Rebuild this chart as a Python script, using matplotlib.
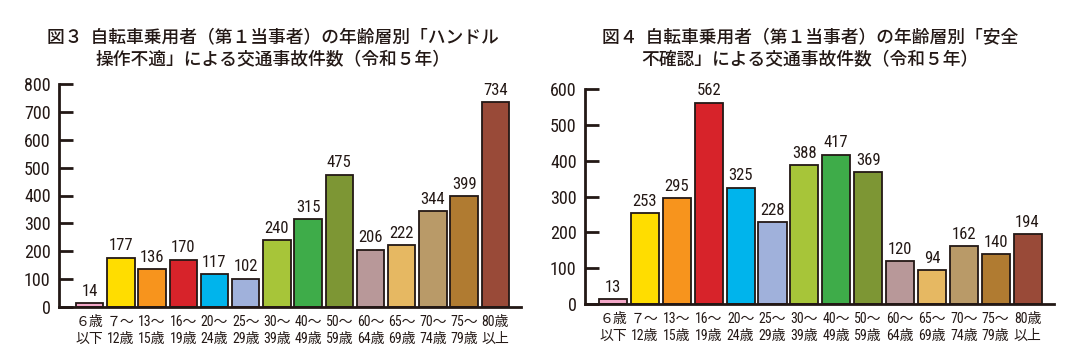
import matplotlib
matplotlib.use("Agg")
import matplotlib.pyplot as plt
from matplotlib import font_manager

categories = ["６歳\n以下", "７～\n12歳", "13～\n15歳", "16～\n19歳", "20～\n24歳",
              "25～\n29歳", "30～\n39歳", "40～\n49歳", "50～\n59歳", "60～\n64歳",
              "65～\n69歳", "70～\n74歳", "75～\n79歳", "80歳\n以上"]
handle_values = [14, 177, 136, 170, 117, 102, 240, 315, 475, 206, 222, 344, 399, 734]
safety_values = [13, 253, 295, 562, 325, 228, 388, 417, 369, 120, 94, 162, 140, 194]
bar_colors = ["#F4A7C8", "#FFDD00", "#F7941D", "#D7232A", "#00B4EC", "#A0B1DB",
              "#A7C539", "#3EAC49", "#7D9634", "#B89899", "#E6B862", "#B99A68",
              "#B07B31", "#994A38"]
title_left = "図３  自転車乗用者（第１当事者）の年齢層別「ハンドル\n操作不適」による交通事故件数（令和５年）"
title_right = "図４  自転車乗用者（第１当事者）の年齢層別「安全\n不確認」による交通事故件数（令和５年）"

available = {f.name for f in font_manager.fontManager.ttflist}
narrow = "DejaVu Sans"
for cand in ["Roboto Condensed", "Liberation Sans Narrow", "Archivo Narrow", "PT Sans Narrow",
             "Arimo", "Liberation Sans"]:
    if cand in available:
        narrow = cand
        break
num_fam = [narrow, "DejaVu Sans"]
lab_fam = [narrow, "Noto Sans CJK JP"]
txt = "#231815"

fig = plt.figure(figsize=(10.85, 3.58), dpi=100)

def draw(ax_rect, values, ymax, yticks, xlim):
    ax = fig.add_axes(ax_rect)
    x = list(range(len(values)))
    ax.bar(x, values, width=0.88, color=bar_colors, edgecolor="#231815", linewidth=1.3, zorder=2)
    for xi, v in zip(x, values):
        ax.annotate(str(v), (xi, v), xytext=(0, 3), textcoords="offset points",
                    ha="center", va="bottom", fontsize=12, family=num_fam, color=txt)
    ax.set_xlim(*xlim)
    ax.set_ylim(0, ymax)
    ax.set_yticks(yticks)
    ax.set_yticklabels([str(t) for t in yticks], family=num_fam, fontsize=13, color=txt)
    ax.set_xticks(x)
    ax.set_xticklabels(categories, family=lab_fam, fontsize=10, color=txt, linespacing=1.25)
    ax.tick_params(axis="y", direction="in", length=10, width=2, pad=6, color=txt)
    ax.tick_params(axis="x", length=0, pad=6)
    for s in ["top", "right"]:
        ax.spines[s].set_visible(False)
    for s in ["left", "bottom"]:
        ax.spines[s].set_linewidth(2)
        ax.spines[s].set_color(txt)
    return ax

draw([59/1085, 1-307/358, (521-59)/1085, (307-84)/358], handle_values, 800,
     list(range(0, 801, 100)), (-0.98, 13.82))
draw([585/1085, 1-304/358, (1054-585)/1085, (304-89)/358], safety_values, 600,
     list(range(0, 601, 100)), (-0.88, 13.83))

fig.text(273/1085, 1-49/358, title_left, ha="center", va="center", fontsize=12.8,
         family=["Noto Sans CJK JP"], weight=500, color=txt, linespacing=1.25)
fig.text(810/1085, 1-49/358, title_right, ha="center", va="center", fontsize=12.8,
         family=["Noto Sans CJK JP"], weight=500, color=txt, linespacing=1.25)

fig.savefig("out.png", dpi=100)
